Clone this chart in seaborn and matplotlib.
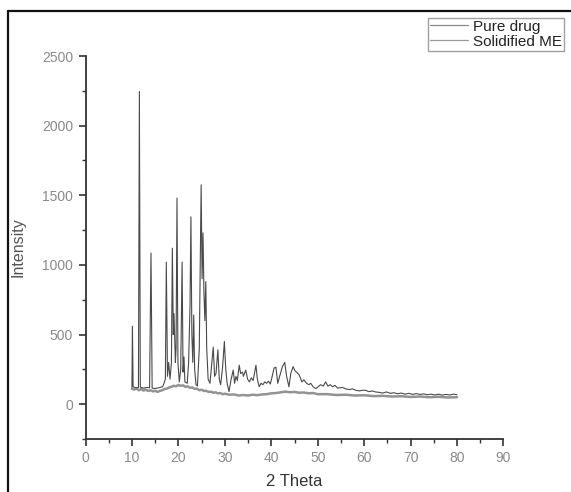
import matplotlib
matplotlib.use("Agg")
import matplotlib.pyplot as plt
import seaborn as sns
import pandas as pd
from matplotlib.lines import Line2D
from matplotlib.ticker import MultipleLocator

# ---- data ----
pure_theta = [10.0, 10.1, 10.25, 10.8, 11.4, 11.6, 11.8, 12.5, 13.2, 13.8, 14.1, 14.35, 15.0, 15.8,
              16.6, 16.9, 17.2, 17.4, 17.65, 17.9, 18.2, 18.5, 18.7, 18.9, 19.05, 19.2, 19.35, 19.5,
              19.7, 19.9, 20.2, 20.5, 20.8, 21.0, 21.2, 21.4, 21.9, 22.2, 22.5, 22.7, 22.9, 23.1,
              23.3, 23.5, 23.8, 24.1, 24.5, 24.9, 25.1, 25.3, 25.5, 25.7, 25.9, 26.1, 26.4, 26.8,
              27.1, 27.5, 27.8, 28.1, 28.5, 28.8, 29.1, 29.5, 29.9, 30.2, 30.5, 30.9, 31.3, 31.8,
              32.1, 32.4, 32.7, 33.1, 33.4, 33.8, 34.0, 34.5, 34.9, 35.3, 35.7, 36.1, 36.7, 37.0,
              37.4, 37.8, 38.2, 38.6, 39.0, 39.4, 39.8, 40.2, 40.6, 41.0, 41.4, 41.8, 42.4, 42.9,
              43.3, 43.8, 44.2, 44.7, 45.1, 45.6, 46.0, 46.6, 47.0, 47.6, 48.1, 48.5, 49.0, 49.6,
              50.1, 50.6, 51.2, 51.7, 52.2, 52.7, 53.2, 53.7, 54.3, 55.3, 56.0, 56.8, 57.5, 58.2,
              59.0, 59.6, 60.3, 61.0, 61.8, 62.4, 63.2, 64.0, 64.8, 65.6, 66.4, 67.2, 68.0, 68.8,
              69.6, 70.4, 71.2, 72.0, 72.8, 73.6, 74.4, 75.2, 76.0, 76.8, 77.6, 78.4, 79.2, 80.0]
pure_intensity = [120, 560, 125, 118, 120, 2245, 122, 115, 120, 118, 1085, 115, 112, 118,
                  125, 150, 180, 1020, 200, 300, 180, 300, 1120, 500, 650, 480, 300, 400,
                  1480, 300, 160, 250, 1020, 230, 340, 160, 150, 300, 700, 1345, 500, 300,
                  640, 250, 140, 130, 400, 1575, 900, 1230, 800, 600, 880, 400, 180, 150,
                  260, 410, 200, 220, 390, 180, 140, 260, 450, 250, 150, 90, 170, 245,
                  150, 200, 170, 280, 220, 230, 200, 245, 180, 160, 190, 170, 280, 180,
                  125, 150, 140, 160, 150, 165, 145, 200, 260, 265, 150, 200, 270, 300,
                  200, 125, 220, 270, 240, 225, 210, 160, 175, 150, 140, 150, 125, 112,
                  125, 140, 130, 160, 130, 140, 125, 135, 115, 120, 110, 105, 110, 100,
                  95, 100, 100, 90, 95, 88, 85, 80, 88, 78, 82, 75, 80, 72,
                  78, 70, 76, 70, 74, 68, 72, 66, 72, 65, 70, 66, 72, 68]

me_theta = [10.0, 10.5, 11, 11.5, 12, 12.5, 13, 13.5, 14, 14.5, 15, 15.5, 16, 16.5, 17, 17.5,
            18, 18.5, 19, 19.5, 20, 20.5, 21, 21.5, 22, 22.5, 23, 23.5, 24, 24.5, 25, 25.5,
            26, 26.5, 27, 27.5, 28, 28.5, 29, 29.5, 30, 31, 32, 33, 34, 35, 36, 37, 38, 39,
            40, 41, 42, 43, 44, 45, 46, 47, 48, 49, 50, 52, 54, 56, 58, 60, 62, 64, 66, 68,
            70, 72, 74, 76, 78, 80]
me_intensity = [110, 105, 112, 100, 108, 98, 104, 95, 100, 92, 96, 88, 95, 100, 108, 112,
                120, 125, 132, 128, 138, 132, 135, 125, 128, 118, 120, 110, 112, 100, 104, 95,
                96, 88, 90, 82, 85, 78, 80, 72, 75, 68, 70, 62, 66, 62, 68, 65, 70, 72,
                78, 80, 85, 90, 86, 88, 82, 84, 78, 80, 72, 72, 66, 68, 62, 64, 58, 60, 55, 57,
                52, 55, 50, 53, 48, 50]

series_names = ["Pure drug", "Solidified ME"]
x_ticks = [0, 10, 20, 30, 40, 50, 60, 70, 80, 90]
y_ticks = [0, 500, 1000, 1500, 2000, 2500]

# ---- style ----
sns.set_style("ticks")
plt.rcParams["font.family"] = ["Liberation Sans", "DejaVu Sans"]

W, H = 571, 492
fig = plt.figure(figsize=(W / 100, H / 100), dpi=100)
ax = fig.add_axes([85.5 / W, 1 - 439 / H, (503.5 - 85.5) / W, (439 - 56) / H])

pure_df = pd.DataFrame({"theta": pure_theta, "intensity": pure_intensity})
me_df = pd.DataFrame({"theta": me_theta, "intensity": me_intensity})

sns.lineplot(data=me_df, x="theta", y="intensity", ax=ax, color="#939393", lw=1.8,
             estimator=None, sort=False, label=series_names[1], legend=False)
sns.lineplot(data=pure_df, x="theta", y="intensity", ax=ax, color="#4a4a4a", lw=0.8,
             estimator=None, sort=False, label=series_names[0], legend=False)

ax.set_xlim(0, 90)
ax.set_ylim(-250, 2500)
ax.set_xticks(x_ticks)
ax.set_yticks(y_ticks)
ax.xaxis.set_minor_locator(MultipleLocator(5))
ax.yaxis.set_minor_locator(MultipleLocator(250))

for side in ["top", "right"]:
    ax.spines[side].set_visible(False)
for side in ["left", "bottom"]:
    ax.spines[side].set_color("#333333")
    ax.spines[side].set_linewidth(1.3)

ax.tick_params(which="major", direction="out", length=5, width=1.2, color="#333333",
               labelsize=10, labelcolor="#8a8a8a", pad=4)
ax.tick_params(which="minor", direction="out", length=3, width=1.0, color="#333333")

ax.set_xlabel("2 Theta", fontsize=12, color="#333333", labelpad=6)
ax.set_ylabel("Intensity", fontsize=11.5, color="#555555")
ax.yaxis.set_label_coords((25 - 85.5) / (503.5 - 85.5), 0.5)

# legend (top-right, in the outer frame)
handles = [Line2D([], [], color="#8a8a8a", lw=0.9), Line2D([], [], color="#9a9a9a", lw=0.9)]
leg = fig.legend(handles, series_names, loc="upper right",
                 bbox_to_anchor=(564 / W, 1 - 17.5 / H), frameon=True, fancybox=False,
                 fontsize=11, handlelength=2.5, handletextpad=0.3, labelspacing=0.05,
                 borderpad=0.15, borderaxespad=0)
leg.get_frame().set_edgecolor("#888888")
leg.get_frame().set_linewidth(1.0)
for t in leg.get_texts():
    t.set_color("#222222")

# outer frame lines
fig.add_artist(Line2D([8 / W, 8 / W], [0, 1 - 11 / H], color="#111111", lw=1.6,
                      transform=fig.transFigure))
fig.add_artist(Line2D([8 / W, 1.0], [1 - 11 / H, 1 - 11 / H], color="#111111", lw=1.6,
                      transform=fig.transFigure))

fig.savefig("out.png", dpi=100)
